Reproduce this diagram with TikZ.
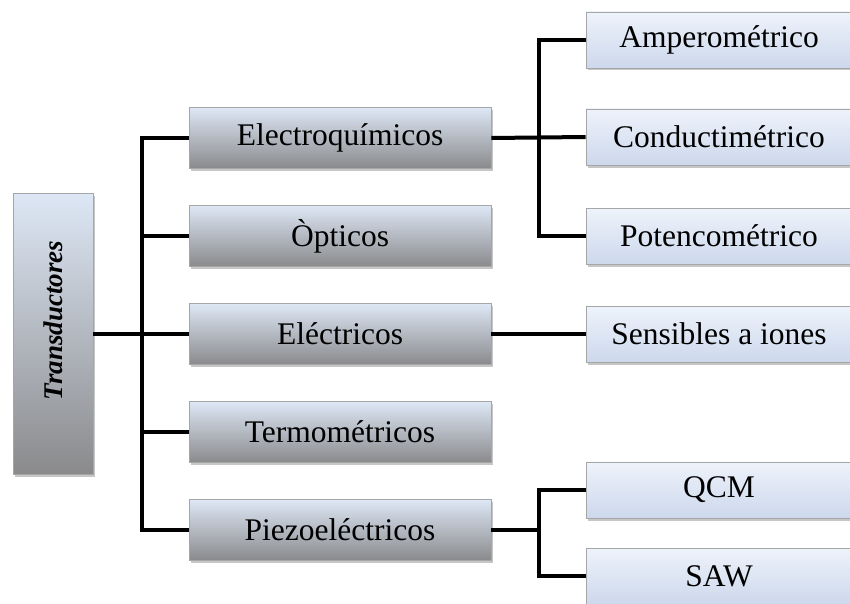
\documentclass[tikz,border=0pt]{standalone}
\usepackage{fontspec}
\setmainfont{Liberation Serif}
\usetikzlibrary{shadows}
\definecolor{boxtop}{RGB}{221,231,245}
\definecolor{boxbot}{RGB}{138,138,140}
\definecolor{leaftop}{RGB}{238,243,251}
\definecolor{leafbot}{RGB}{205,216,236}
\begin{document}
\begin{tikzpicture}[x=1pt,y=-1pt,
    box/.style={draw=gray!70,line width=0.6pt,top color=boxtop,bottom color=boxbot,
      drop shadow={shadow xshift=2pt,shadow yshift=-2.5pt,opacity=0.45},
      minimum width=302pt,minimum height=61pt,font=\fontsize{31.5}{36}\selectfont},
    leaf/.style={box,top color=leaftop,bottom color=leafbot,
      minimum width=266pt,minimum height=56pt},
    link/.style={line width=4pt}]
  \useasboundingbox (0,0) rectangle (850,604);
  % root
  \node[box,minimum width=80pt,minimum height=281pt] (trans) at (53,333.5)
    {\rotatebox{90}{\fontsize{27}{32}\selectfont\bfseries\itshape\hspace*{26pt}Transductores}};
  % middle column
  \node[box] (elec)  at (340,138) {Electroquímicos};
  \node[box] (opt)   at (340,236) {Òpticos};
  \node[box] (elect) at (340,334) {Eléctricos};
  \node[box] (termo) at (340,432) {Termométricos};
  \node[box] (piezo) at (340,530) {Piezoeléctricos};
  % right column
  \node[leaf] (amp)  at (719,40)  {Amperométrico};
  \node[leaf] (cond) at (719,137) {Conductimétrico};
  \node[leaf] (pot)  at (719,236) {Potencométrico};
  \node[leaf] (sens) at (719,334) {Sensibles a iones};
  \node[leaf] (qcm)  at (719,490) {QCM};
  \node[leaf] (saw)  at (719,576) {SAW};
  % connectors
  \coordinate (hub) at (142,334);
  \coordinate (hubE) at (539,138);
  \coordinate (hubP) at (539,530);
  \draw[link] (trans.east |- hub) -- (hub);
  \draw[link] (elec.west) -| (hub) |- (piezo.west);
  \draw[link] (hub |- opt.west) -- (opt.west);
  \draw[link] (hub) -- (elect.west);
  \draw[link] (hub |- termo.west) -- (termo.west);
  \draw[link] (amp.west) -| (hubE) |- (pot.west);
  \draw[link] (elec.east) -- (cond.west);
  \draw[link] (elect.east) -- (sens.west);
  \draw[link] (qcm.west) -| (hubP) |- (saw.west);
  \draw[link] (piezo.east) -- (hubP);
\end{tikzpicture}
\end{document}
